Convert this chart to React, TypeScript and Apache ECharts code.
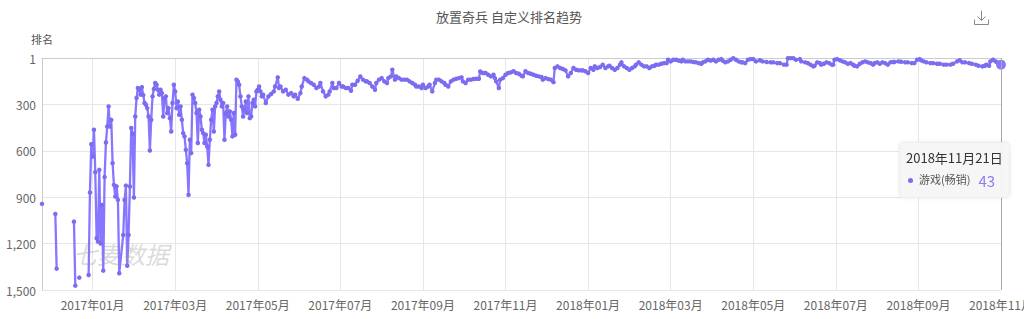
import React, { useEffect, useRef } from 'react';
import * as echarts from 'echarts';

const TITLE = '放置奇兵 自定义排名趋势';
const SERIES_NAME = '游戏(畅销)';
const Y_NAME = '排名';
const WATERMARK = '七麦数据';
const START_UTC = Date.UTC(2016, 11, 1);
const DAY_COUNT = 721;
const TICK_STEP_DAYS = 62;
const Y_MAX = 1500;
const Y_STEP = 300;

// [day index since 2016-12-01, rank]
const burst1 = [[0, 943]];
const burst2 = [[10, 1008], [11, 1362]];
const burst3 = [[24, 1058], [25, 1472]];
const burst4 = [[28, 1420]];

const ramp2017 = [
  [35, 1403], [36, 870], [37, 557], [38, 637], [39, 464], [40, 738], [41, 1165], [42, 1187], [43, 723], [44, 1200],
  [45, 950], [46, 1375], [47, 770], [48, 546], [49, 443], [50, 313], [51, 443], [52, 400], [53, 680], [54, 820],
  [55, 896], [56, 830], [57, 917], [58, 1392], [61, 1144], [62, 918], [63, 825], [64, 1343], [65, 1144], [66, 831],
  [67, 453], [68, 490], [69, 902], [70, 378], [71, 259], [72, 194],
];

const spring2017 = [
  [73, 205], [74, 237], [75, 188], [76, 240], [77, 291], [78, 302], [79, 324], [80, 378], [81, 598], [82, 400],
  [83, 248], [84, 200], [85, 162], [86, 173], [87, 205], [88, 237], [89, 205], [90, 227], [91, 378], [92, 259],
  [93, 248], [94, 356], [95, 324], [96, 389], [97, 475], [98, 291], [99, 173], [100, 216], [101, 324], [102, 281],
  [103, 367], [104, 313], [105, 399], [106, 486], [107, 507], [108, 594], [109, 680], [110, 885], [111, 529], [112, 615],
  [113, 237], [114, 259], [115, 291], [116, 356], [117, 550], [118, 335], [119, 378], [120, 464], [121, 486], [122, 550],
  [123, 496], [124, 572], [125, 691], [126, 529], [127, 399], [128, 335], [129, 475], [130, 313], [131, 291], [132, 248],
  [133, 216], [134, 270], [135, 313], [136, 291], [137, 529], [138, 356], [139, 313], [140, 378], [141, 345], [142, 399],
  [143, 507], [144, 356], [145, 496], [146, 140], [147, 151], [148, 173], [149, 248], [150, 313], [151, 378], [152, 335],
  [153, 281], [154, 356], [155, 248], [156, 389], [157, 378], [158, 291], [159, 270], [160, 313], [161, 216], [162, 205],
];

const mid2017 = [
  [163, 184], [164, 216], [165, 248], [166, 237], [168, 291], [170, 248], [172, 233], [174, 216], [175, 184], [177, 125],
  [178, 194], [179, 184], [181, 216], [183, 205], [185, 237], [187, 227], [189, 248], [190, 237], [192, 263], [194, 227],
  [195, 184], [197, 130], [199, 140], [200, 151], [202, 162], [204, 173], [206, 194], [208, 184], [209, 162], [211, 216],
  [213, 248], [215, 237], [216, 216], [218, 162], [219, 194], [221, 194], [223, 162], [225, 184], [226, 184], [228, 194],
  [230, 194], [232, 212], [233, 173], [235, 173], [237, 147], [239, 119], [241, 140], [243, 151], [244, 151], [246, 162],
  [248, 184], [250, 205], [251, 162], [253, 140], [255, 130], [257, 151], [259, 162], [260, 130], [262, 119], [263, 76],
  [265, 140], [266, 119], [268, 130], [270, 140], [272, 140], [274, 140], [276, 151], [278, 162], [280, 173], [281, 184],
  [283, 184], [285, 194], [286, 173], [288, 194], [290, 184], [291, 173], [293, 216], [295, 162], [296, 140], [298, 140],
  [300, 151], [302, 162], [303, 173], [305, 184], [307, 151], [309, 140], [311, 134], [313, 130], [315, 125], [316, 151],
  [318, 162], [320, 140], [322, 140], [324, 136], [326, 134], [328, 134], [329, 87], [331, 97], [333, 97], [335, 108],
  [337, 119], [339, 108], [340, 130], [341, 151], [343, 194], [344, 140],
];

const early2018 = [
  [346, 130], [348, 108], [350, 97], [352, 93], [354, 86], [356, 97], [358, 102], [360, 115], [361, 119], [363, 86],
  [365, 97], [367, 102], [369, 108], [371, 115], [373, 119], [375, 123], [376, 140], [378, 130], [380, 136], [382, 140],
  [384, 156], [385, 65], [387, 54], [389, 65], [391, 71], [393, 80], [395, 119], [397, 97], [399, 65], [401, 76],
  [403, 80], [405, 80], [406, 80], [408, 86], [410, 97], [412, 65], [414, 76], [415, 54], [417, 65], [419, 58],
  [421, 43], [423, 65], [425, 54], [426, 50], [428, 65], [430, 76], [432, 65], [434, 43], [435, 28], [437, 54],
  [439, 65], [441, 76], [443, 65], [445, 54], [446, 43], [448, 28], [450, 43], [452, 54], [454, 54], [456, 65],
  [458, 54], [460, 50], [461, 43], [463, 43], [465, 37], [467, 33], [469, 33], [470, 11], [472, 22], [474, 11],
  [476, 11], [478, 17], [480, 22], [481, 11], [483, 22], [485, 22], [487, 22], [489, 26], [491, 28], [493, 33],
  [495, 37], [496, 28], [498, 22], [500, 11], [502, 17], [504, 11], [506, 22], [508, 11], [510, 7], [511, 17],
  [513, 28], [515, 22], [517, 11], [519, 1], [521, 11], [523, 22], [525, 28], [526, 28], [528, 33], [530, 11],
  [532, 7],
];

const late2018 = [
  [534, 7], [536, 22], [539, 15], [541, 22], [544, 26], [547, 28], [549, 28], [552, 33], [554, 33], [557, 43],
  [559, 43], [560, 1], [562, 1], [564, 1], [566, 11], [569, 7], [570, 22], [573, 28], [575, 33], [577, 43],
  [579, 54], [580, 50], [582, 28], [584, 33], [585, 43], [587, 37], [589, 28], [591, 33], [593, 43], [594, 43],
  [595, 11], [597, 7], [599, 15], [601, 22], [603, 28], [605, 37], [607, 33], [609, 43], [610, 50], [612, 54],
  [614, 37], [616, 28], [618, 22], [620, 28], [622, 33], [624, 43], [625, 33], [627, 28], [629, 37], [631, 28],
  [633, 33], [635, 43], [637, 28], [639, 26], [640, 26], [643, 22], [645, 24], [648, 28], [650, 28], [653, 33],
  [655, 33], [657, 11], [659, 7], [660, 15], [662, 22], [664, 28], [667, 33], [669, 33], [672, 37], [674, 37],
  [677, 43], [679, 43], [682, 43], [684, 37], [687, 22], [689, 15], [691, 28], [693, 28], [696, 33], [698, 37],
  [701, 43], [703, 50], [706, 54], [708, 50], [709, 43], [711, 50], [712, 22], [714, 11], [716, 22], [717, 28],
  [719, 33], [720, 43],
];

const DAY_MS = 86400000;
const dates = Array.from({ length: DAY_COUNT }, (_, i) =>
  new Date(START_UTC + i * DAY_MS).toISOString().slice(0, 10)
);
const startEpochDay = Math.round(START_UTC / DAY_MS);
const isTick = (i: number) => (startEpochDay + i) % TICK_STEP_DAYS === 0;

const segments = [burst1, burst2, burst3, burst4, [...ramp2017, ...spring2017, ...mid2017, ...early2018, ...late2018]];
const seriesData: any[] = [];
segments.forEach((seg, k) => {
  if (k > 0) seriesData.push([seg[0][0] - 1, null]);
  seg.forEach((p) => seriesData.push(p));
});

const FONT = '"Noto Sans CJK SC", "Microsoft YaHei", sans-serif';
const LINE_COLOR = '#7b6cf0';

export default function App() {
  const ref = useRef<HTMLDivElement>(null);
  useEffect(() => {
    if (!ref.current) return;
    const chart = echarts.init(ref.current, null, { renderer: 'svg' });
    chart.setOption({
      animation: false,
      textStyle: { fontFamily: FONT },
      title: {
        text: TITLE,
        left: 431,
        top: 5,
        textStyle: { fontSize: 13, fontWeight: 'normal', color: '#555', fontFamily: FONT },
      },
      toolbox: {
        left: 972,
        top: 8,
        itemSize: 14,
        padding: 0,
        iconStyle: { borderColor: '#888', color: 'none', borderWidth: 1 },
        feature: {
          saveAsImage: { title: '', icon: 'path://M7,0L7,10M3,6L7,10L11,6M0,9L0,14L14,14L14,9' },
        },
      },
      grid: { left: 42, right: 23, top: 58, bottom: 29, containLabel: false, outerBoundsMode: 'none' },
      tooltip: {
        trigger: 'axis',
        showDelay: 0,
        transitionDuration: 0,
        alwaysShowContent: true,
        position: [899, 142],
        backgroundColor: 'rgba(246,246,246,0.97)',
        borderColor: '#eeeeee',
        borderWidth: 1,
        padding: [5, 6],
        extraCssText: 'box-shadow:0 0 4px rgba(0,0,0,0.08);border-radius:4px;',
        axisPointer: { type: 'line', lineStyle: { color: '#aaa', width: 1, type: 'solid' } },
        formatter: (params: any) => {
          const p = Array.isArray(params) ? params[0] : params;
          const d = String(p.axisValue || dates[p.data[0]]);
          const dt = `${d.slice(0, 4)}年${d.slice(5, 7)}月${d.slice(8, 10)}日`;
          const v = p.data[1];
          return `<div style="font-family:${FONT.replace(/"/g, "'")};">` +
            `<div style="font-size:13px;color:#333;line-height:20px;">${dt}</div>` +
            `<div style="font-size:11px;color:#555;line-height:22px;white-space:nowrap;">` +
            `<span style="display:inline-block;width:5px;height:5px;border-radius:50%;background:${LINE_COLOR};margin:0 6px 2px 2px;vertical-align:middle;"></span>` +
            `${SERIES_NAME}<span style="color:#8b7ff2;font-size:15px;margin-left:8px;vertical-align:middle;">${v}</span></div></div>`;
        },
      },
      graphic: [
        {
          type: 'text',
          left: 73,
          top: 241,
          silent: true,
          z: 100,
          style: {
            text: WATERMARK,
            font: `italic 24px ${FONT}`,
            fill: 'rgba(150,150,150,0.35)',
          },
        },
      ],
      xAxis: {
        type: 'category',
        data: dates,
        boundaryGap: false,
        axisLine: { lineStyle: { color: '#ccc' } },
        axisTick: { show: false },
        axisLabel: {
          interval: (i: number) => isTick(i),
          color: '#666',
          fontSize: 12,
          margin: 8,
          formatter: (v: string) => `${v.slice(0, 4)}年${v.slice(5, 7)}月`,
        },
        splitLine: { show: true, interval: (i: number) => isTick(i), lineStyle: { color: '#e6e6e6' } },
      },
      yAxis: {
        type: 'value',
        inverse: true,
        min: 0,
        max: Y_MAX,
        interval: Y_STEP,
        name: Y_NAME,
        nameLocation: 'start',
        nameGap: 14,
        nameTextStyle: { color: '#555', fontSize: 11, align: 'center' },
        axisLine: { show: true, lineStyle: { color: '#ccc' } },
        axisTick: { show: false },
        axisLabel: {
          color: '#666',
          fontSize: 12,
          margin: 6,
          formatter: (v: number) => (v === 0 ? '1' : v.toLocaleString('en-US')),
        },
        splitLine: { lineStyle: { color: '#e6e6e6' } },
      },
      series: [
        {
          name: SERIES_NAME,
          type: 'line',
          data: seriesData,
          connectNulls: false,
          showAllSymbol: true,
          symbol: 'circle',
          symbolSize: 4.5,
          color: LINE_COLOR,
          lineStyle: { color: LINE_COLOR, width: 2.3 },
          itemStyle: { color: LINE_COLOR },
          emphasis: { scale: 2.2 },
        },
      ],
    });
    chart.dispatchAction({ type: 'showTip', seriesIndex: 0, dataIndex: seriesData.length - 1 });
    return () => chart.dispose();
  }, []);
  return <div ref={ref} style={{ position: 'absolute', left: 0, top: 0, width: 1024, height: 319 }} />;
}
